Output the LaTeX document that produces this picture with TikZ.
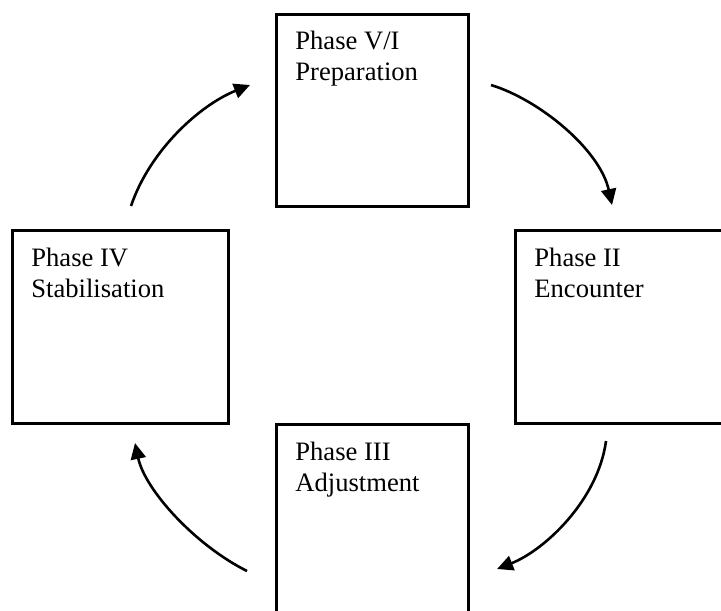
\documentclass[tikz,border=0pt]{standalone}
\usepackage{fontspec}
\setmainfont{Liberation Serif}
\usetikzlibrary{arrows.meta}

\tikzset{
  phasebox/.style={draw, line width=1.4pt, anchor=north west, inner sep=0pt},
  phasetext/.style={anchor=base west, align=left, inner sep=0pt, xshift=10pt, yshift=-34pt,
    font=\fontsize{13.3}{15.5}\selectfont},
  cyclearrow/.style={line width=1.3pt, -{Triangle[length=8pt,width=7.5pt]}}
}

\begin{document}
\begin{tikzpicture}[x=0.5pt, y=-0.5pt]
    % page frame, same size as the reference
    \useasboundingbox (0,0) rectangle (721,610);
    \clip (0,0) rectangle (721,610);

    % the four phase boxes
    \node[phasebox, minimum width=96pt, minimum height=96pt,
      label={[phasetext]north west:Phase V/I\\Preparation}] (prep) at (275,13) {};
    \node[phasebox, minimum width=108pt, minimum height=96.5pt,
      label={[phasetext]north west:Phase II\\Encounter}] (enc) at (514,229) {};
    \node[phasebox, minimum width=96pt, minimum height=96pt,
      label={[phasetext]north west:Phase III\\Adjustment}] (adj) at (275,423) {};
    \node[phasebox, minimum width=108pt, minimum height=96.5pt,
      label={[phasetext]north west:Phase IV\\Stabilisation}] (stab) at (11,229) {};

    % free ends of the curved arrows
    \coordinate (stabout) at (131,206);
    \coordinate (prepin) at (250,85);
    \coordinate (prepout) at (491,85);
    \coordinate (encin) at (612,205);
    \coordinate (encout) at (606,441);
    \coordinate (adjin) at (497,569);
    \coordinate (adjout) at (247,571);
    \coordinate (stabin) at (135,443);

    % the cycle
    \draw[cyclearrow] (stabout) .. controls (150,150) and (200,105) .. (prepin);
    \draw[cyclearrow] (prepout) .. controls (540,100) and (600,150) .. (encin);
    \draw[cyclearrow] (encout) .. controls (598,500) and (545,550) .. (adjin);
    \draw[cyclearrow] (adjout) .. controls (195,545) and (145,490) .. (stabin);
\end{tikzpicture}
\end{document}
